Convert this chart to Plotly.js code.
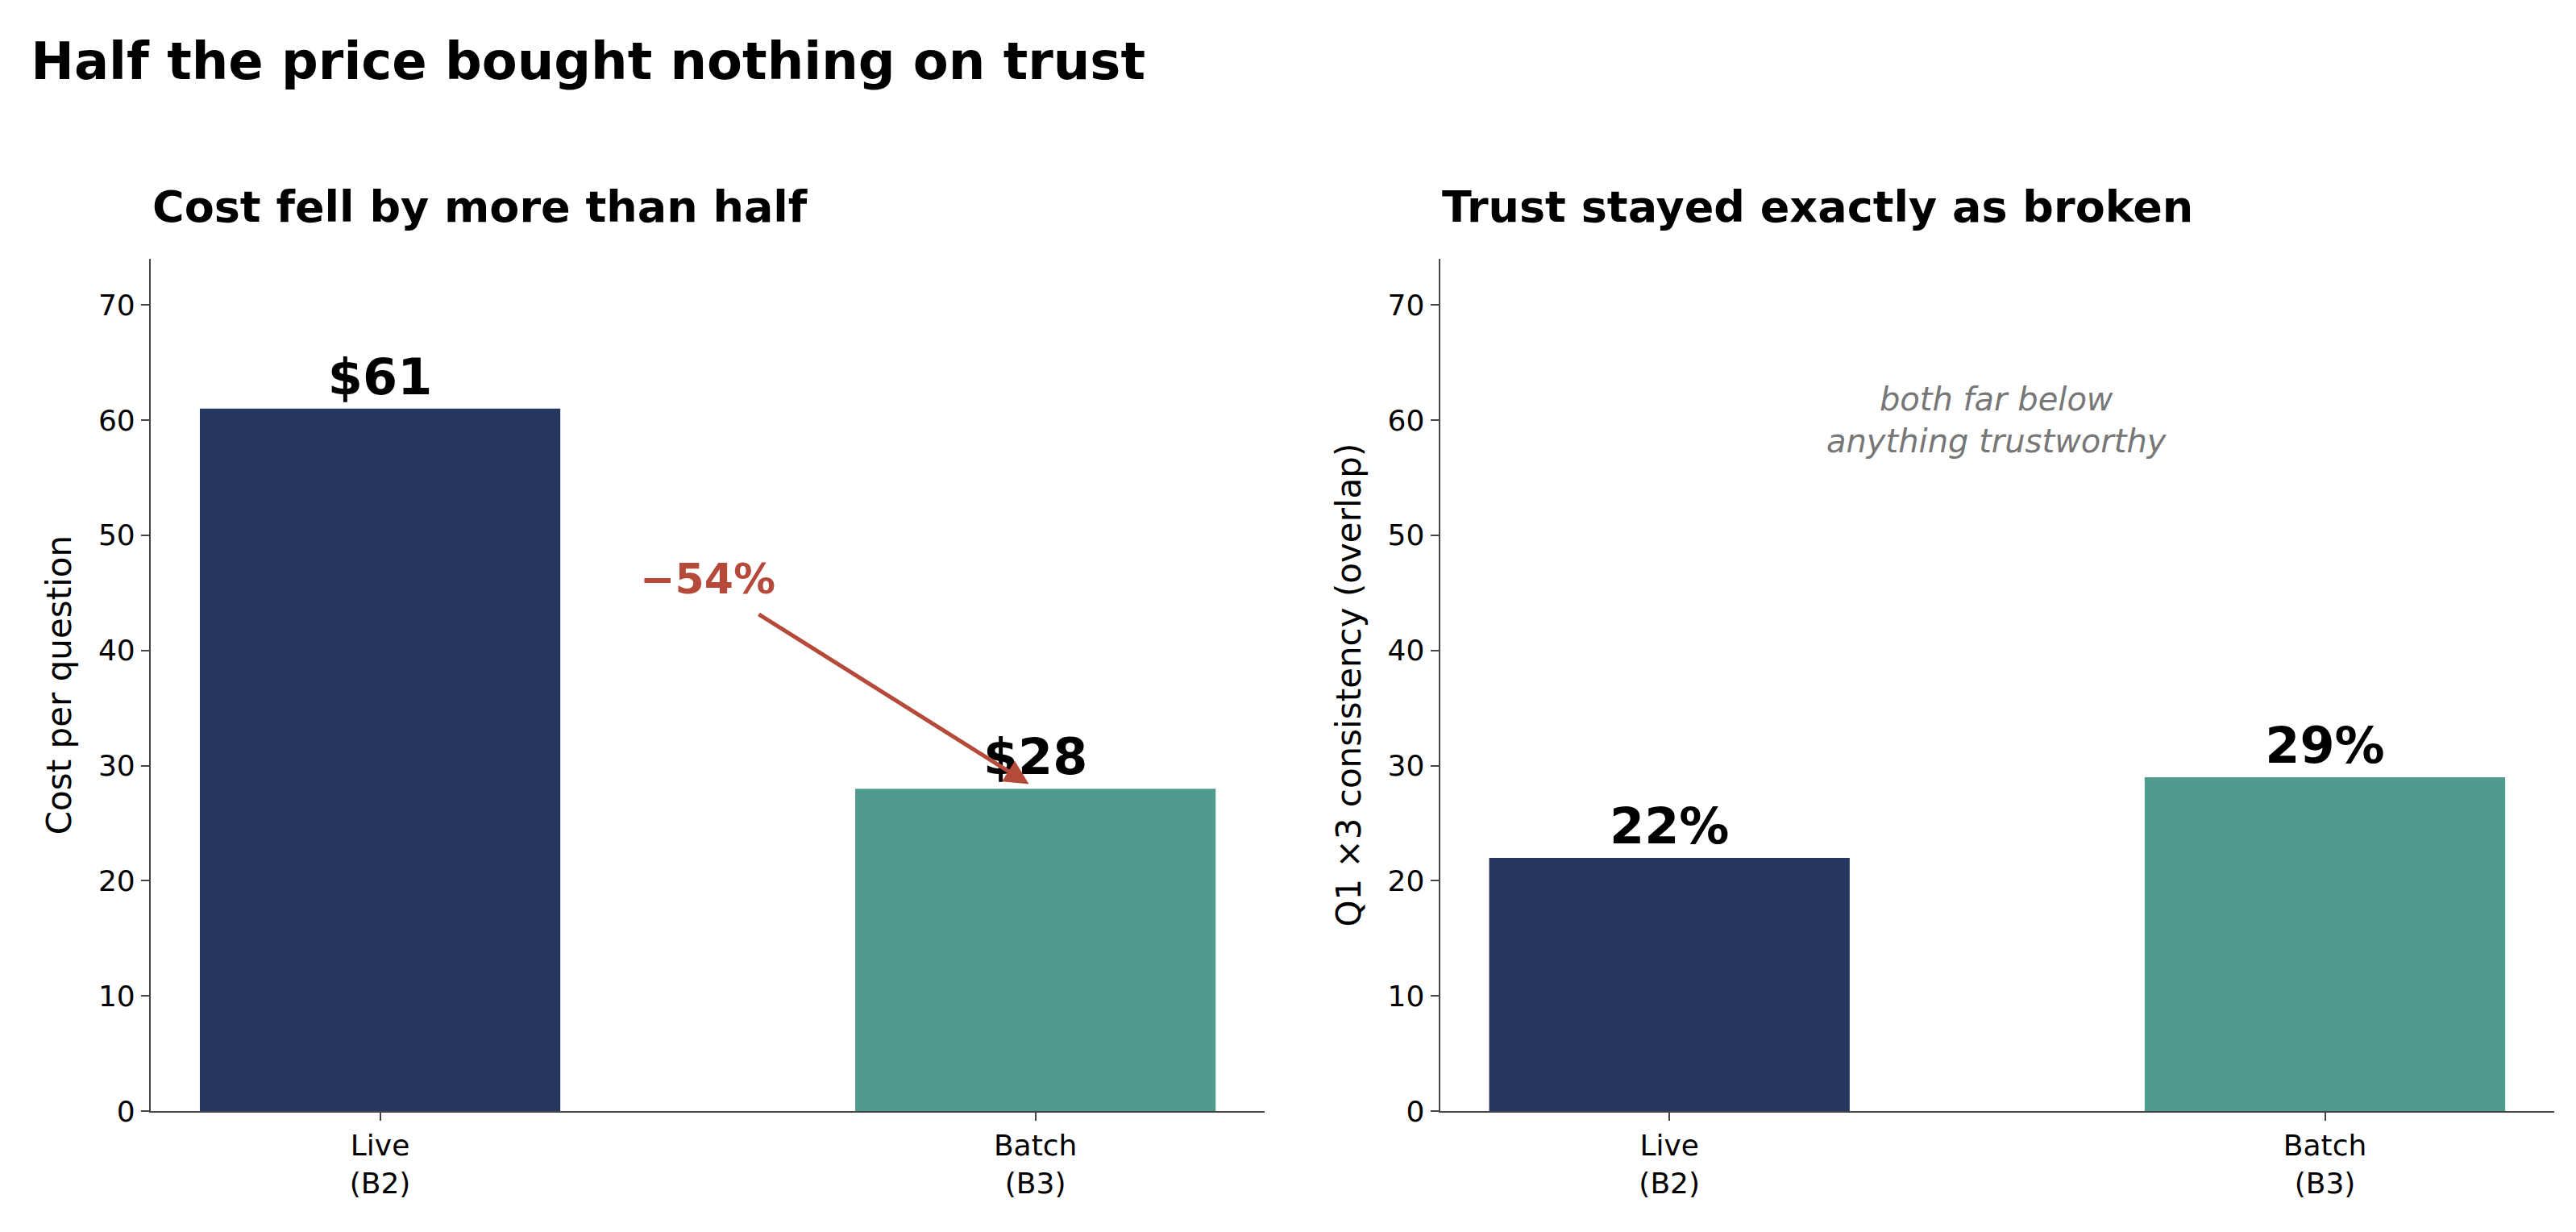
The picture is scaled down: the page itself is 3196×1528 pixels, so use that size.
<!DOCTYPE html>
<html><head><meta charset="utf-8">
<script src="https://cdn.plot.ly/plotly-3.0.1.min.js"></script>
<style>body{margin:0}</style></head>
<body><div id="chart" style="width:3196px;height:1528px"></div>
<script>
var categories = ['Live<br>(B2)', 'Batch<br>(B3)'];
var costValues = [61, 28];
var costLabels = ['$61', '$28'];
var trustValues = [22, 29];
var trustLabels = ['22%', '29%'];
var barColors = ['#25375e', '#4f9c8f'];

var font = 'DejaVu Sans, sans-serif';

var data = [
  {x: categories, y: costValues, type: 'bar', width: 0.55, marker: {color: barColors},
   text: costLabels, textposition: 'outside', cliponaxis: false,
   textfont: {size: 62, color: '#000', family: font, weight: 'bold'}, xaxis: 'x', yaxis: 'y'},
  {x: categories, y: trustValues, type: 'bar', width: 0.55, marker: {color: barColors},
   text: trustLabels, textposition: 'outside', cliponaxis: false,
   textfont: {size: 62, color: '#000', family: font, weight: 'bold'}, xaxis: 'x2', yaxis: 'y2'}
];

var axX = {range: [-0.35, 1.35], showline: true, linecolor: '#444', linewidth: 2, ticks: 'outside',
  ticklen: 10, tickwidth: 2, tickfont: {size: 36}, showgrid: false};
var axY = {range: [0, 74], dtick: 10, showline: true, linecolor: '#444', linewidth: 2, ticks: 'outside',
  ticklen: 10, tickwidth: 2, tickfont: {size: 36}, showgrid: false, zeroline: false};

var layout = {
  width: 3196, height: 1528, showlegend: false,
  paper_bgcolor: '#fff', plot_bgcolor: '#fff',
  font: {family: font, color: '#000'},
  margin: {l: 0, r: 0, t: 0, b: 0},
  title: {text: '<b>Half the price bought nothing on trust</b>', x: 0.012, xanchor: 'left',
    y: 0.965, yanchor: 'top', font: {size: 64}},
  xaxis: Object.assign({}, axX, {domain: [0.0585, 0.491], anchor: 'y'}),
  yaxis: Object.assign({}, axY, {domain: [0.098, 0.79], anchor: 'x',
    title: {text: 'Cost per question', font: {size: 42}, standoff: 20}}),
  xaxis2: Object.assign({}, axX, {domain: [0.559, 0.9916], anchor: 'y2'}),
  yaxis2: Object.assign({}, axY, {domain: [0.098, 0.79], anchor: 'x2',
    title: {text: 'Q1 ×3 consistency (overlap)', font: {size: 42}, standoff: 20}}),
  annotations: [
    {text: '<b>Cost fell by more than half</b>', xref: 'paper', yref: 'paper', x: 0.0585, y: 0.81,
     xanchor: 'left', yanchor: 'bottom', showarrow: false, font: {size: 54}},
    {text: '<b>Trust stayed exactly as broken</b>', xref: 'paper', yref: 'paper', x: 0.559, y: 0.81,
     xanchor: 'left', yanchor: 'bottom', showarrow: false, font: {size: 54}},
    {x: 0.99, y: 28.4, ax: 0.576, ay: 43.2, xref: 'x', yref: 'y', axref: 'x', ayref: 'y',
     text: '', showarrow: true, arrowhead: 2, arrowsize: 1.2, arrowwidth: 5, arrowcolor: '#b5493a'},
    {x: 0.5, y: 46.2, xref: 'x', yref: 'y', text: '<b>−54%</b>', showarrow: false,
     font: {size: 52, color: '#b5493a'}},
    {x: 0.5, y: 60, xref: 'x2', yref: 'y2', text: '<i>both far below<br>anything trustworthy</i>',
     showarrow: false, font: {size: 40, color: '#777'}}
  ]
};

Plotly.newPlot('chart', data, layout, {displayModeBar: false});
</script></body></html>
